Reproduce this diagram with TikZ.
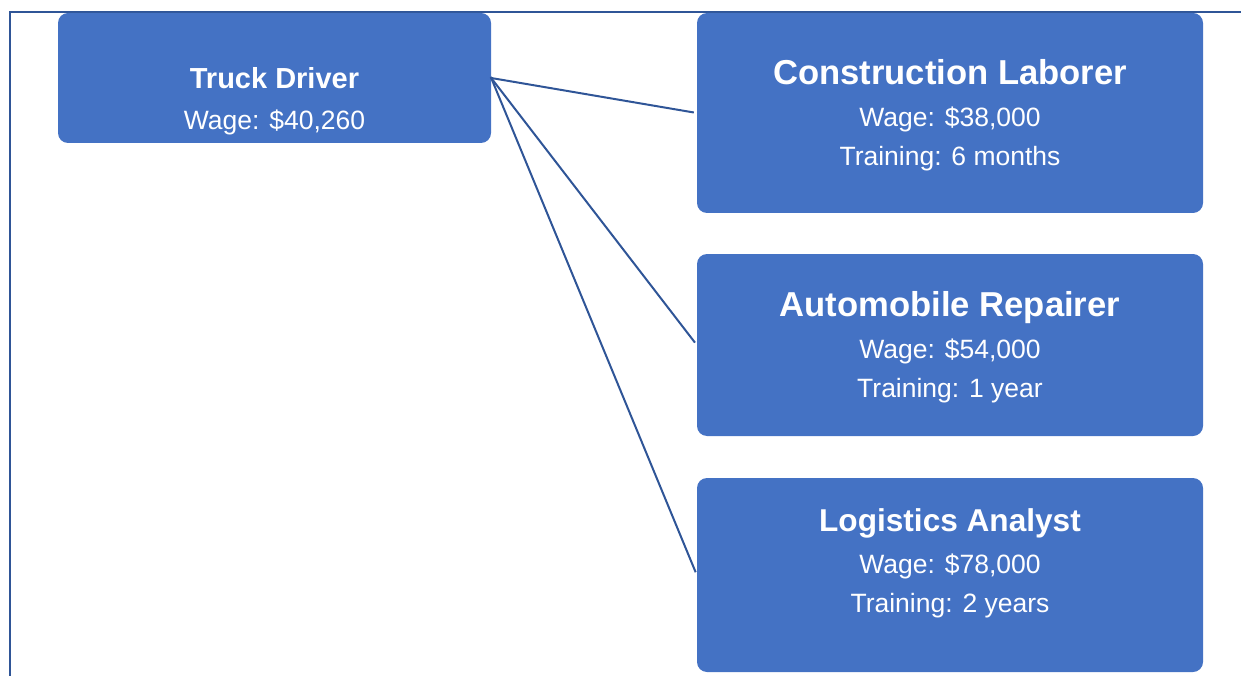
\documentclass[tikz,border=0pt]{standalone}
\usepackage{fontspec}
\setmainfont{Liberation Sans}
\usetikzlibrary{positioning}
\definecolor{boxblue}{HTML}{4472C4}
\definecolor{lineblue}{HTML}{2F5597}

\begin{document}
\begin{tikzpicture}[x=1pt,y=-1pt,
  box/.style={fill=boxblue,rounded corners=10pt,inner sep=0pt},
  jobtitle/.style={text=white,anchor=base,inner sep=0pt,font=\bfseries\fontsize{#1}{40}\selectfont},
  jobtitle/.default=34.6,
  jobtext/.style={text=white,anchor=base,inner sep=0pt,font=\fontsize{26.5}{30}\selectfont},
  link/.style={lineblue,line width=2pt}]
\useasboundingbox (0,0) rectangle (1241,676);
% page frame, left and top only
\draw[link] (10,676) -- (10,12) -- (1241,12);
% current job
\node[box,minimum width=433pt,minimum height=130pt] (driver) at (274.5,78) {};
\node[jobtitle=29] (driver-title) at (274.5,88.5) {Truck Driver};
\node[jobtext] (driver-wage) at (274.5,129.5) {Wage: \$40,260};
% possible next jobs
\foreach \n/\y/\h/\b/\s/\t/\w/\d in {laborer/113/200/84.4/34.6/{Construction Laborer}/{38,000}/{6 months},
    repairer/345/182/316.4/34.6/{Automobile Repairer}/{54,000}/{1 year},
    analyst/575/194/531.5/31.6/{Logistics Analyst}/{78,000}/{2 years}}{
  \node[box,minimum width=506pt,minimum height=\h pt] (\n) at (950,\y) {};
  \node[jobtitle=\s] (\n-title) at (950,\b) {\t};
  \node[jobtext] (\n-wage) at (950,\b+42) {Wage: \$\w};
  \node[jobtext] (\n-time) at (950,\b+81) {Training: \d};
}
\foreach \n in {laborer,repairer,analyst}
  \draw[link,shorten <=-1pt,shorten >=3pt] (driver.east) -- (\n.west);
\end{tikzpicture}
\end{document}
